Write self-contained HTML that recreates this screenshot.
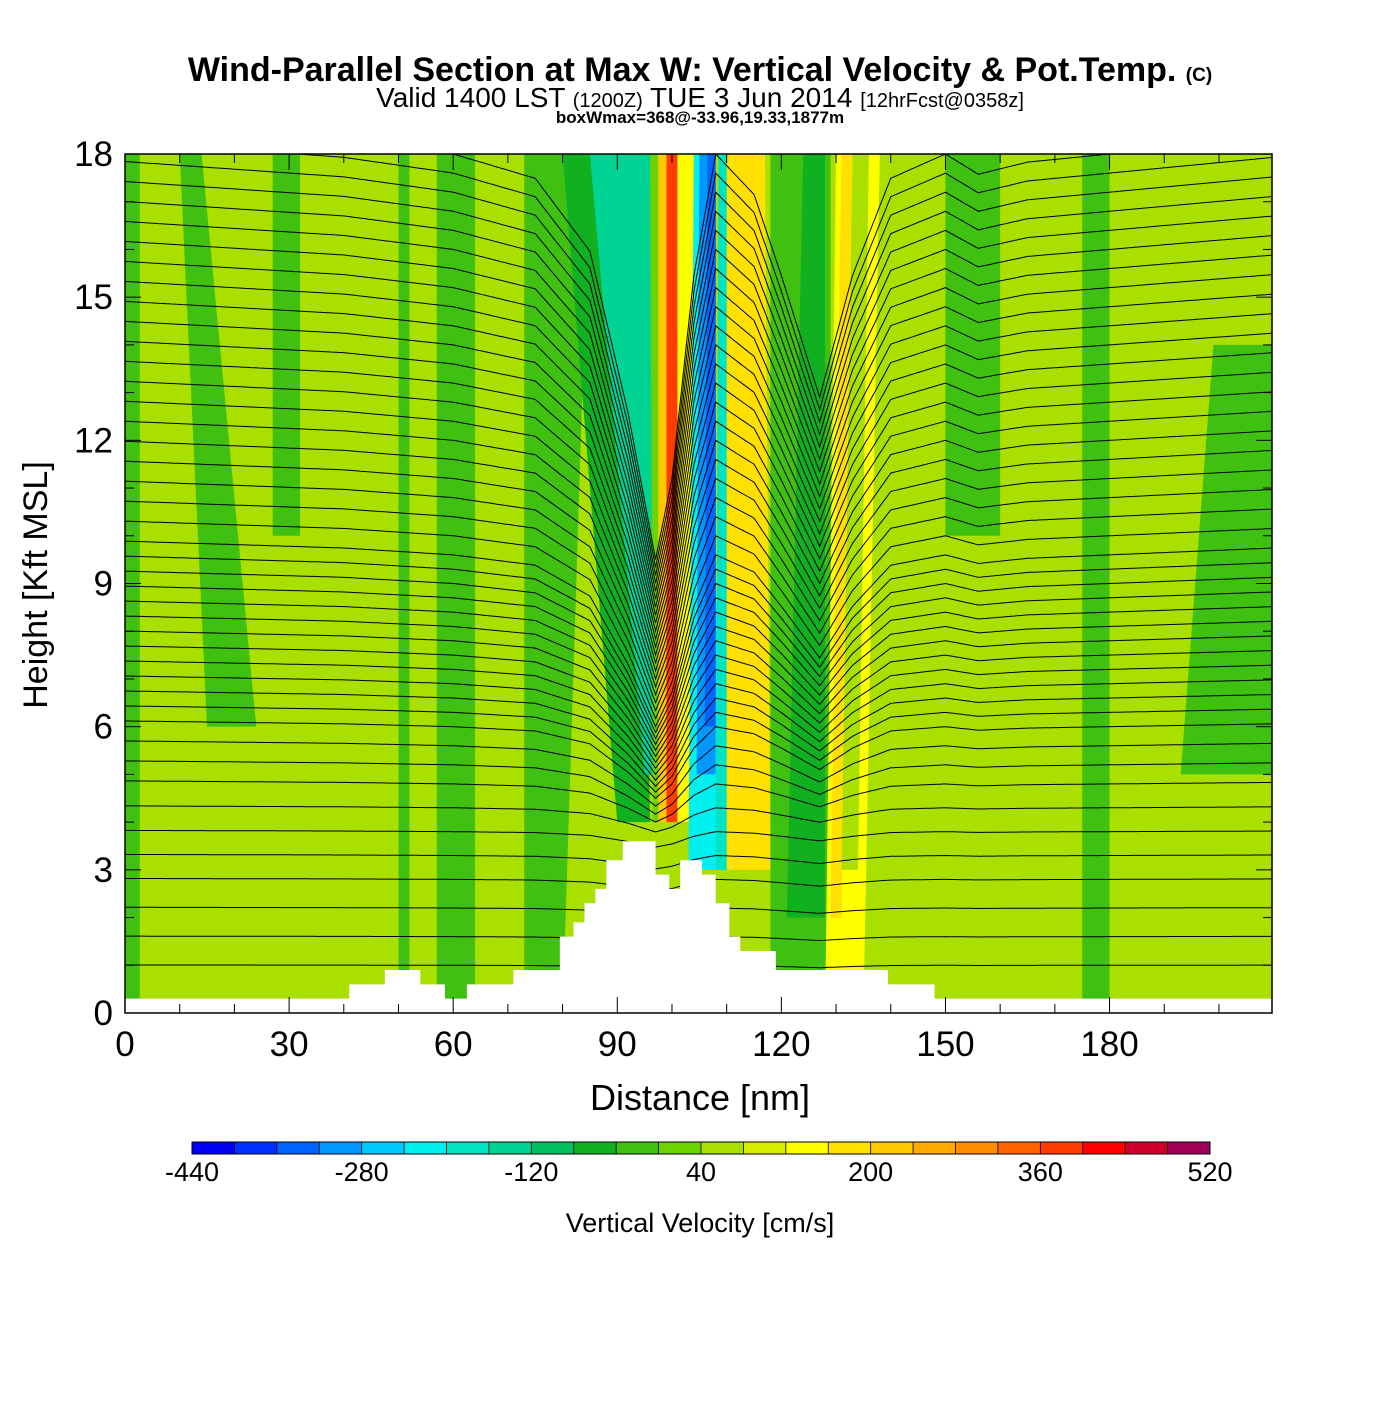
<!DOCTYPE html>
<html><head><meta charset="utf-8"><style>
body{margin:0;background:#fff}
svg text{font-family:"Liberation Sans",sans-serif}
</style></head><body>
<svg id="c" width="1400" height="1400" viewBox="0 0 1400 1400" xmlns="http://www.w3.org/2000/svg">
<text x="700" y="81" text-anchor="middle" font-size="34" font-weight="bold">Wind-Parallel Section at Max W: Vertical Velocity &amp; Pot.Temp. <tspan font-size="19">(C)</tspan></text>
<text x="700" y="107" text-anchor="middle" font-size="28">Valid 1400 LST <tspan font-size="20">(1200Z)</tspan> TUE 3 Jun 2014 <tspan font-size="20">[12hrFcst@0358z]</tspan></text>
<text x="700" y="123" text-anchor="middle" font-size="17" font-weight="bold">boxWmax=368@-33.96,19.33,1877m</text>
<defs><clipPath id="pc"><rect x="125" y="154" width="1147" height="859"/></clipPath></defs>
<g id="field" clip-path="url(#pc)"></g>
<g id="lines" clip-path="url(#pc)"></g>
<g id="terrain"></g>
<g id="axes"></g>
<g id="cbar"></g>
<text x="700" y="1110" text-anchor="middle" font-size="36">Distance [nm]</text>
<text transform="translate(47,585) rotate(-90)" text-anchor="middle" font-size="34">Height [Kft MSL]</text>
<text x="700" y="1232" text-anchor="middle" font-size="27">Vertical Velocity [cm/s]</text>
</svg>
<script>
// ---- data ----
const xTicks=[0,30,60,90,120,150,180];
const yTicks=[0,3,6,9,12,15,18];
const cbLabels=[-440,-280,-120,40,200,360,520];
const cbColors=["#0000f4","#0030ff","#0064ff","#0098ff","#00c8ff","#00f0f0","#00e4c4","#00d494","#00c060","#10b020","#40c010","#6cd200","#aae000","#d8f000","#ffff00","#ffe000","#ffc800","#ffaa00","#ff8c00","#ff6400","#ff3c00","#ff0000","#d0002c","#a00058"];
// bands: x0 bottom, x1 bottom, x0 top, x1 top (nm), bottom/top kft, value cm/s
const bandX0b=[0,15,27,50,57,73,90,95,96,96.5,97.5,99,101,103,104.5,106,108,110,112,118,121,128,129,131,150,193,175];
const bandX1b=[2.7,24,32,52,64,80,96,97,97,99,101,103,104.5,110,108,108,112,113,118,129,128,135,131,134,160,210,180];
const bandX0t=[0,10,27,50,57,73,80,85,94,96,97.5,99,101,104,105,106.5,108.5,110,113,118,124,130,131,133,150,199,175];
const bandX1t=[2.7,14,32,52,64,85,94,96,96,99,101,103,104,105,108,108,110,113,117,129,128,138,133,136,160,210,180];
const bandY0=[0,6,10,0,0,0,4,5,5,4,4,4,4,3,5,6,3,3,3,0,2,0,2,3,10,5,0];
const bandY1=[18,18,18,18,18,18,18,18,18,18,18,18,18,18,18,18,18,18,18,18,18,18,18,18,18,14,18];
const bandVal=[-20,-20,-20,-20,-20,-30,-60,-140,-160,20,200,370,150,-220,-300,-360,-200,160,190,-20,-60,120,180,70,-20,-20,-20];
// potential temperature contour base heights (kft) and displacement profile
const thetaLevels=[1,1.6,2.2,2.8,3.3,3.8,4.3,4.8,5.2,5.6,6.0,6.3,6.6,6.9,7.2,7.5,7.8,8.1,8.4,8.7,9.0,9.3,9.6,10,10.4,10.8,11.2,11.6,12,12.4,12.8,13.2,13.6,14,14.4,14.8,15.2,15.6,16,16.4,16.8,17.2,17.6,18];
const profX=[0,20,40,60,75,85,92,97,100,104,108,115,120,127,133,140,150,156,165,180,210];
const profD=[0.4,0.3,0.2,0,-0.3,-1.2,-3.2,-5,-4,-1.5,0,-0.5,-1.5,-3,-1.5,-0.3,0,-0.25,-0.1,0,0.2];
const terrainX=[0,41,41,47.5,47.5,54,54,58.5,58.5,62.5,62.5,71,71,79.5,79.5,82,82,84,84,86,86,88,88,91,91,97,97,99.5,99.5,101.5,101.5,105.5,105.5,108,108,110.5,110.5,112.5,112.5,119,119,139.5,139.5,148,148,210];
const terrainH=[0.3,0.3,0.6,0.6,0.9,0.9,0.6,0.6,0.3,0.3,0.6,0.6,0.9,0.9,1.6,1.6,1.9,1.9,2.3,2.3,2.6,2.6,3.2,3.2,3.6,3.6,2.9,2.9,2.6,2.6,3.2,3.2,2.9,2.9,2.3,2.3,1.6,1.6,1.3,1.3,0.9,0.9,0.6,0.6,0.3,0.3];
// ---- scales ----
const NS="http://www.w3.org/2000/svg";
const X=v=>125+v*1147/209.7, Y=v=>1013-v*859/18;
function colorFor(v){let i=Math.floor((v+440)/40);i=Math.max(0,Math.min(23,i));return cbColors[i];}
function mk(t,a,p){const e=document.createElementNS(NS,t);for(const k in a)e.setAttribute(k,a[k]);p.appendChild(e);return e;}
const field=document.getElementById('field');
const bg=mk('rect',{x:125,y:154,width:1147,height:859,fill:"#aae000"},field);


for(let i=0;i<bandVal.length;i++){
 const y0=bandY0[i],y1=bandY1[i];
 const p=mk('polygon',{points:`${X(bandX0b[i])},${Y(y0)} ${X(bandX1b[i])},${Y(y0)} ${X(bandX1t[i])},${Y(y1)} ${X(bandX0t[i])},${Y(y1)}`,fill:colorFor(bandVal[i])},field);
 
 
}
function prof(x){for(let i=1;i<profX.length;i++){if(x<=profX[i]){const t=(x-profX[i-1])/(profX[i]-profX[i-1]);return profD[i-1]+t*(profD[i]-profD[i-1]);}}return profD[profD.length-1];}
const lines=document.getElementById('lines');
thetaLevels.forEach(b=>{
 const k=b>4?(0.583*b-2)/5:0.017*b;
 let d="";for(let x=0;x<=210;x+=0.5){const y=b+k*prof(x);d+=(x?"L":"M")+X(x).toFixed(1)+","+Y(y).toFixed(1);}
 const p=mk('path',{d:d,fill:"none",stroke:"#000","stroke-width":1},lines);
 
 
});
const ter=document.getElementById('terrain');
let tp=`${X(0)},${Y(0)} `;terrainX.forEach((x,i)=>tp+=`${X(x)},${Y(terrainH[i])} `);tp+=`${X(209.7)},${Y(0.3)} ${X(209.7)},${Y(0)}`;
const tpoly=mk('polygon',{points:tp,fill:"#fff"},ter);


const ax=document.getElementById('axes');
const fr=mk('rect',{x:125,y:154,width:1147,height:859,fill:"none",stroke:"#000","stroke-width":1.5},ax);


for(let v=0;v<=209;v+=10){const L=v%30==0?16:9;mk('line',{x1:X(v),x2:X(v),y1:1013,y2:1013-L,stroke:"#000"},ax);mk('line',{x1:X(v),x2:X(v),y1:154,y2:154+L,stroke:"#000"},ax);}
for(let v=0;v<=18;v+=1){const L=v%3==0?16:9;mk('line',{x1:125,x2:125+L,y1:Y(v),y2:Y(v),stroke:"#000"},ax);mk('line',{x1:1272,x2:1272-L,y1:Y(v),y2:Y(v),stroke:"#000"},ax);}
xTicks.forEach(v=>{const t=mk('text',{x:X(v),y:1056,"text-anchor":"middle","font-size":35},ax);t.textContent=v;
 
 });
yTicks.forEach(v=>{const t=mk('text',{x:113,y:Y(v)+12,"text-anchor":"end","font-size":35},ax);t.textContent=v;
 
 });
const cb=document.getElementById('cbar');
const cbX=v=>192+(v+440)*(1018/960);
cbColors.forEach((c,i)=>{const r=mk('rect',{x:cbX(-440+i*40),y:1142,width:1018/24+0.5,height:12,fill:c},cb);
 
 });
for(let i=0;i<=24;i++)mk('line',{x1:cbX(-440+i*40),x2:cbX(-440+i*40),y1:1142,y2:1154,stroke:"#000","stroke-width":0.8},cb);
mk('rect',{x:192,y:1142,width:1018,height:12,fill:"none",stroke:"#000"},cb);
cbLabels.forEach(v=>{const t=mk('text',{x:cbX(v),y:1181,"text-anchor":"middle","font-size":27},cb);t.textContent=v;
 
 });
</script>
</body></html>
